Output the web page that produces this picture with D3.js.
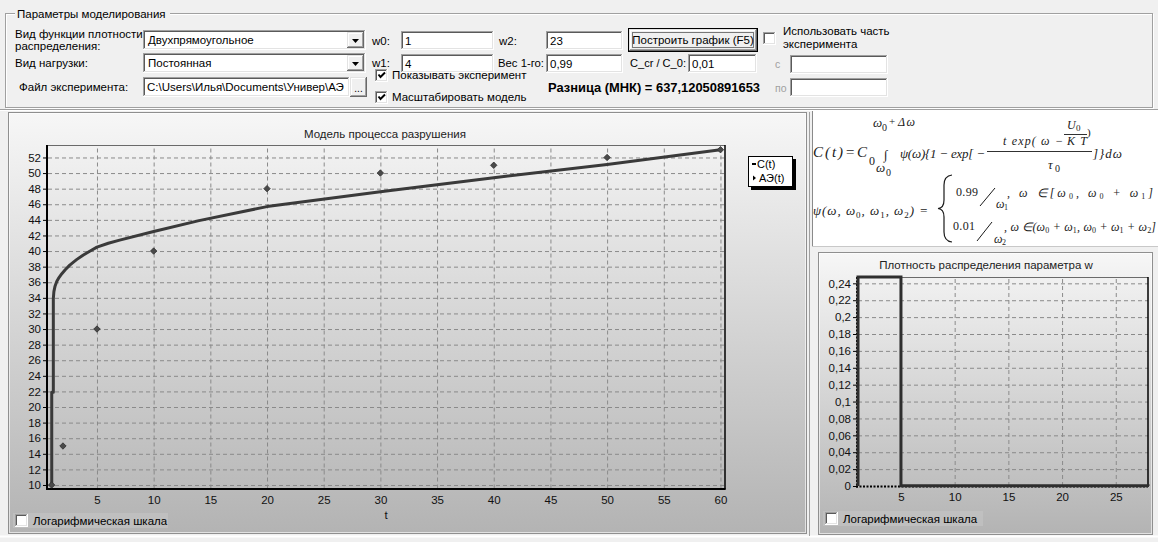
<!DOCTYPE html>
<html>
<head>
<meta charset="utf-8">
<script src="https://cdn.jsdelivr.net/npm/d3@7"></script>
<style>
  html, body { margin: 0; padding: 0; background: #f0f0f0; }
  svg { display: block; font-family: "Liberation Sans", Arial, sans-serif; }
</style>
</head>
<body>
<svg id="app" width="1158" height="542"></svg>
<script>
// ---- experiment (АЭ) points ----
const expT = [1, 2, 5, 10, 20, 30, 40, 50, 60];
const expC = [10, 15, 30, 40, 48, 50, 51, 52, 53];

// ---- model curve C(t) ----
const modelT = [1.01, 1.01, 1.15, 1.15, 1.2, 1.3, 1.45, 1.65, 1.9, 2.2, 2.6, 3.2, 3.8, 4.4, 5, 6, 7, 10, 14, 20, 30, 40, 50, 60];
const modelC = [10, 21.9, 21.9, 33.9, 34.8, 35.5, 36.1, 36.6, 37.1, 37.6, 38.2, 38.9, 39.5, 40.0, 40.5, 41.0, 41.4, 42.5, 43.9, 45.7, 47.6, 49.4, 51.1, 53.0];

// ---- density of parameter w (two rectangles: 0.99/w1 and 0.01/w2) ----
const densW = [1, 1, 5, 5, 28, 28];
const densP = [0, 0.2475, 0.2475, 0.000435, 0.000435, 0];

// ---- axis ranges and tick labels ----
const tRange = [0.68, 60.4];
const cRange = [9.55, 53.6];
const tTicks = [5, 10, 15, 20, 25, 30, 35, 40, 45, 50, 55, 60];
const cTicks = [10, 12, 14, 16, 18, 20, 22, 24, 26, 28, 30, 32, 34, 36, 38, 40, 42, 44, 46, 48, 50, 52];
const wRange = [1, 28];
const pRange = [0, 0.2475];
const wTicks = [5, 10, 15, 20, 25];
const pTicks = [0, 0.02, 0.04, 0.06, 0.08, 0.1, 0.12, 0.14, 0.16, 0.18, 0.2, 0.22, 0.24];

const W = 1158, H = 542;
const svg = d3.select('#app');
const defs = svg.append('defs');
const grad = defs.append('linearGradient').attr('id', 'panelGrad')
  .attr('x1', 0).attr('y1', 0).attr('x2', 0).attr('y2', 1);
grad.append('stop').attr('offset', 0).attr('stop-color', '#f7f7f7');
grad.append('stop').attr('offset', 1).attr('stop-color', '#b3b3b3');

svg.append('rect').attr('width', W).attr('height', H).attr('fill', '#f0f0f0');

// ---------- small widget helpers ----------
function ln(g, x1, y1, x2, y2, c, w = 1, dash = null) {
  return g.append('line').attr('x1', x1).attr('y1', y1).attr('x2', x2).attr('y2', y2)
    .attr('stroke', c).attr('stroke-width', w).attr('stroke-dasharray', dash);
}
function label(g, x, cy, text, o = {}) {
  const t = g.append('text').attr('x', x).attr('y', cy).attr('dy', '0.35em')
    .attr('font-size', o.size || 11.5).attr('fill', o.fill || '#000')
    .attr('font-weight', o.weight || null).attr('text-anchor', o.anchor || 'start')
    .text(text);
  if (o.len) t.attr('textLength', o.len).attr('lengthAdjust', 'spacingAndGlyphs');
  return t;
}
function sunken(g, x, y, w, h, fill = '#fff') {
  g.append('rect').attr('x', x).attr('y', y).attr('width', w).attr('height', h).attr('fill', fill);
  ln(g, x, y + 0.5, x + w, y + 0.5, '#a0a0a0');
  ln(g, x + 0.5, y, x + 0.5, y + h, '#a0a0a0');
  ln(g, x + 1, y + 1.5, x + w - 1, y + 1.5, '#5a5a5a');
  ln(g, x + 1.5, y + 1, x + 1.5, y + h - 1, '#5a5a5a');
  ln(g, x, y + h - 0.5, x + w, y + h - 0.5, '#ffffff');
  ln(g, x + w - 0.5, y, x + w - 0.5, y + h, '#ffffff');
  ln(g, x + 1, y + h - 1.5, x + w - 1, y + h - 1.5, '#e3e3e3');
  ln(g, x + w - 1.5, y + 1, x + w - 1.5, y + h - 1, '#e3e3e3');
}
function raised(g, x, y, w, h) {
  g.append('rect').attr('x', x).attr('y', y).attr('width', w).attr('height', h).attr('fill', '#f0f0f0');
  ln(g, x, y + 0.5, x + w - 1, y + 0.5, '#e3e3e3');
  ln(g, x + 0.5, y, x + 0.5, y + h - 1, '#e3e3e3');
  ln(g, x + 1, y + 1.5, x + w - 2, y + 1.5, '#ffffff');
  ln(g, x + 1.5, y + 1, x + 1.5, y + h - 2, '#ffffff');
  ln(g, x, y + h - 0.5, x + w, y + h - 0.5, '#696969');
  ln(g, x + w - 0.5, y, x + w - 0.5, y + h, '#696969');
  ln(g, x + 1, y + h - 1.5, x + w - 1, y + h - 1.5, '#a0a0a0');
  ln(g, x + w - 1.5, y + 1, x + w - 1.5, y + h - 1, '#a0a0a0');
}
function combo(g, x, y, w, h, text) {
  sunken(g, x, y, w, h);
  raised(g, x + w - 19, y + 2, 17, h - 4);
  const cx = x + w - 10.5, cy = y + h / 2 + 1;
  g.append('path').attr('d', `M${cx - 3.5},${cy - 2} L${cx + 3.5},${cy - 2} L${cx},${cy + 2}Z`).attr('fill', '#000');
  label(g, x + 5, y + h / 2, text);
}
function field(g, x, y, w, h, text) {
  sunken(g, x, y, w, h);
  if (text) label(g, x + 4, y + h / 2, text);
}
function checkbox(g, x, y, checked) {
  sunken(g, x, y, 13, 13);
  if (checked) {
    g.append('path').attr('d', `M${x + 3.5},${y + 5.5} L${x + 5.5},${y + 8} L${x + 10},${y + 3.5}`)
      .attr('fill', 'none').attr('stroke', '#000').attr('stroke-width', 2);
  }
}

// ---------- parameters group ----------
const ui = svg.append('g');
ui.append('rect').attr('x', 5.5).attr('y', 13.5).attr('width', 1147).attr('height', 94)
  .attr('fill', 'none').attr('stroke', '#a0a0a0');
ui.append('rect').attr('x', 6.5).attr('y', 14.5).attr('width', 1147).attr('height', 94)
  .attr('fill', 'none').attr('stroke', '#ffffff').lower();
ui.append('rect').attr('x', 15).attr('y', 6).attr('width', 155).attr('height', 16).attr('fill', '#f0f0f0');
label(ui, 17, 14, 'Параметры моделирования');

label(ui, 15, 34, 'Вид функции плотности');
label(ui, 15, 46, 'распределения:');
combo(ui, 143, 30, 223, 20, 'Двухпрямоугольное');
label(ui, 372, 41, 'w0:');
field(ui, 401, 31, 93, 19, '1');
label(ui, 499, 41, 'w2:');
field(ui, 546, 31, 77, 19, '23');

// "Построить график (F5)" default button
raised(ui, 629, 29, 128, 22);
ui.append('rect').attr('x', 628.5).attr('y', 28.5).attr('width', 129).attr('height', 23)
  .attr('fill', 'none').attr('stroke', '#000');
ui.append('rect').attr('x', 632.5).attr('y', 32.5).attr('width', 121).attr('height', 15)
  .attr('fill', 'none').attr('stroke', '#000').attr('stroke-dasharray', '1,1');
label(ui, 693, 40, 'Построить график (F5)', { anchor: 'middle' });

checkbox(ui, 763, 32, false);
label(ui, 783, 31, 'Использовать часть');
label(ui, 783, 44, 'эксперимента');

label(ui, 15, 63, 'Вид нагрузки:');
combo(ui, 143, 53, 223, 20, 'Постоянная');
label(ui, 372, 63, 'w1:');
field(ui, 401, 54, 93, 19, '4');
label(ui, 498, 63, 'Вес 1-го:', { len: 46 });
field(ui, 546, 54, 77, 19, '0,99');
label(ui, 630, 63, 'C_cr / C_0:', { len: 56 });
field(ui, 688, 54, 69, 19, '0,01');
label(ui, 775, 64, 'с', { fill: '#a0a0a0', size: 10.5 });
field(ui, 790, 55, 98, 19, '');

label(ui, 19, 87, 'Файл эксперимента:');
defs.append('clipPath').attr('id', 'fileClip').append('rect')
  .attr('x', 145).attr('y', 78).attr('width', 203).attr('height', 17);
field(ui, 143, 77, 207, 20, '');
label(ui, 147, 87, 'C:\\Users\\Илья\\Documents\\Универ\\АЭ').attr('clip-path', 'url(#fileClip)');
raised(ui, 350, 77, 17, 20);
label(ui, 358.5, 88, '...', { anchor: 'middle', size: 10 });

checkbox(ui, 375, 69, true);
label(ui, 392, 75, 'Показывать эксперимент');
checkbox(ui, 375, 91, true);
label(ui, 392, 97, 'Масштабировать модель');
label(ui, 548, 88, 'Разница (МНК) = 637,12050891653', { weight: 'bold', size: 12, len: 212 });
label(ui, 775, 88, 'по', { fill: '#a0a0a0', size: 10.5 });
field(ui, 790, 78, 98, 19, '');

// separator under the group
ln(svg, 0, 109.5, W, 109.5, '#a0a0a0');
ln(svg, 0, 110.5, W, 110.5, '#ffffff');

// ---------- panels ----------
function panel(x, y, w, h) {
  svg.append('rect').attr('x', x).attr('y', y).attr('width', w).attr('height', h)
    .attr('fill', 'url(#panelGrad)');
  svg.append('rect').attr('x', x + 0.5).attr('y', y + 0.5).attr('width', w - 1).attr('height', h - 1)
    .attr('fill', 'none').attr('stroke', '#8f8f8f');
  svg.append('rect').attr('x', x + 1.5).attr('y', y + 1.5).attr('width', w - 3).attr('height', h - 3)
    .attr('fill', 'none').attr('stroke', '#ffffff').attr('stroke-opacity', 0.6);
}
panel(8, 112, 799, 422);
ln(svg, 0, 536.5, W, 536.5, '#ffffff', 2);
ln(svg, 809.5, 112, 809.5, 536, '#a0a0a0');

// ---------- main chart: model of fracture process ----------
const mp = { l: 48, r: 725, t: 145, b: 488.5 };
const xM = d3.scaleLinear().domain(tRange).range([mp.l, mp.r]);
const yM = d3.scaleLinear().domain(cRange).range([mp.b, mp.t]);
const main = svg.append('g');

main.append('text').attr('x', 385).attr('y', 134).attr('dy', '0.35em').attr('text-anchor', 'middle')
  .attr('font-size', 11.5).attr('fill', '#222').text('Модель процесса разрушения');

const gridStyle = sel => {
  sel.select('.domain').remove();
  sel.selectAll('.tick line').attr('stroke', '#8a8a8a').attr('stroke-dasharray', '4,3');
};
main.append('g').attr('transform', `translate(0,${mp.b})`)
  .call(d3.axisBottom(xM).tickValues(tTicks).tickSize(-(mp.b - mp.t)).tickFormat(''))
  .call(gridStyle);
main.append('g').attr('transform', `translate(${mp.l},0)`)
  .call(d3.axisLeft(yM).tickValues(cTicks).tickSize(-(mp.r - mp.l)).tickFormat(''))
  .call(gridStyle);

// frame and axes
ln(main, mp.l, mp.t + 0.5, mp.r, mp.t + 0.5, '#6a6a6a');
ln(main, mp.r, mp.t, mp.r, mp.b + 1, '#000', 1.5);

const yAxisM = main.append('g').attr('transform', `translate(${mp.l - 1},0)`)
  .call(d3.axisLeft(yM).tickValues(cTicks).tickSize(4).tickPadding(2).tickFormat(d3.format('d')));
const xAxisM = main.append('g').attr('transform', `translate(0,${mp.b})`)
  .call(d3.axisBottom(xM).tickValues(tTicks).tickSize(0).tickPadding(7).tickFormat(d3.format('d')));
[yAxisM, xAxisM].forEach(a => {
  a.select('.domain').remove();
  a.selectAll('text').attr('font-size', 11.5).attr('fill', '#111')
    .attr('font-family', '"Liberation Sans", Arial, sans-serif');
  a.selectAll('.tick line').attr('stroke', '#000');
});
ln(main, mp.l - 1, mp.t, mp.l - 1, mp.b + 1.5, '#000', 2);
ln(main, mp.l - 2, mp.b + 0.5, mp.r + 0.5, mp.b + 0.5, '#000', 2);
main.append('text').attr('x', 386).attr('y', 515).attr('dy', '0.35em').attr('text-anchor', 'middle')
  .attr('font-size', 11.5).attr('fill', '#111').text('t');

// model curve
const model = modelT.map((t, i) => [t, modelC[i]]);
main.append('path').datum(model)
  .attr('d', d3.line().x(d => xM(d[0])).y(d => yM(d[1])))
  .attr('fill', 'none').attr('stroke', '#3a3a3a').attr('stroke-width', 3)
  .attr('stroke-linejoin', 'round');

// experiment points
main.selectAll('path.pt').data(expT.map((t, i) => [t, expC[i]])).join('path')
  .attr('class', 'pt')
  .attr('transform', d => `translate(${xM(d[0])},${yM(d[1])})`)
  .attr('d', 'M0,-3.2 L3.2,0 L0,3.2 L-3.2,0Z')
  .attr('fill', '#4a4a4a').attr('stroke', '#2e2e2e').attr('stroke-width', 0.8);

// legend
const lg = main.append('g');
lg.append('rect').attr('x', 751).attr('y', 159).attr('width', 45).attr('height', 31).attr('fill', '#000');
lg.append('rect').attr('x', 748.5).attr('y', 156.5).attr('width', 44).attr('height', 30)
  .attr('fill', '#fff').attr('stroke', '#000');
ln(lg, 752, 164, 756, 164, '#000', 2);
lg.append('path').attr('d', 'M753,175.5 L756,178 L753,180.5Z').attr('fill', '#000');
label(lg, 757, 164, 'C(t)', { size: 11 });
label(lg, 759, 178.5, 'АЭ(t)', { size: 11 });

// log scale option
const cbBg = (x, y, w) => svg.append('rect').attr('x', x).attr('y', y).attr('width', w).attr('height', 15)
  .attr('fill', '#c6c6c6').attr('fill-opacity', 0.55);
cbBg(13, 513, 155);
checkbox(svg, 15, 514, false);
label(svg, 33, 520.5, 'Логарифмическая шкала');

// ---------- formula box ----------
const fx = svg.append('g');
fx.append('rect').attr('x', 812).attr('y', 111).attr('width', 346).attr('height', 136).attr('fill', '#fff');
ln(fx, 812.5, 111, 812.5, 247, '#8a8a8a');
ln(fx, 812, 246.5, W, 246.5, '#c8c8c8');
const serif = '"Liberation Serif", "Times New Roman", serif';
function ft(x, y, s, size, italic, len) {
  const t = fx.append('text').attr('x', x).attr('y', y).attr('font-family', serif)
    .attr('font-size', size).attr('font-style', italic ? 'italic' : 'normal').attr('fill', '#1a1a1a').text(s);
  if (len) t.attr('textLength', len).attr('lengthAdjust', 'spacing');
  return t;
}
// C(t) = C0 ∫ ψ(ω){1 − exp[−t·exp(ω − U0/KT)/τ0]} dω
ft(813, 157, 'C(t)=C', 15, true, 54);
ft(869, 165, '0', 12, false);
ft(873, 127, 'ω', 13, true);
ft(882, 131, '0', 10, false);
ft(889, 125, '+', 11, false);
ft(898, 126, 'Δω', 12, true, 17);
ft(884, 159, '∫', 13, false);
ft(876, 172, 'ω', 13, true);
ft(886, 176, '0', 10, false);
ft(900, 158, 'ψ(ω){1 − exp[ −', 13, true, 85);
ln(fx, 987, 151.5, 1092, 151.5, '#1a1a1a', 0.9);
ft(1003, 145, 't exp( ω −', 12, true, 60);
ft(1067, 129, 'U', 12, true);
ft(1076, 131, '0', 9, false);
ln(fx, 1064, 134.5, 1087, 134.5, '#1a1a1a', 0.9);
ft(1067, 145, 'KT', 12, true, 20);
ft(1087, 136, ')', 11, false);
ft(1048, 169, 'τ', 13, true);
ft(1055, 172, '0', 10, false);
ft(1093, 158, ']}dω', 13, true, 29);

// ψ(ω, ω0, ω1, ω2) piecewise definition
const l2 = ft(813, 215, '', 13, true);
[['ψ(ω, ω', 0], ['0', 1], [', ω', 0], ['1', 1], [', ω', 0], ['2', 1], [') = ', 0]].forEach(([s, sub]) => {
  l2.append('tspan').attr('font-size', sub ? 9 : 13).attr('font-style', sub ? 'normal' : 'italic')
    .attr('dy', sub ? 3 : (s.startsWith(',') || s.startsWith(')') ? -3 : 0)).text(s);
});
l2.attr('textLength', 115).attr('lengthAdjust', 'spacing');
fx.append('path')
  .attr('d', 'M952,175 Q944,176 944,185 L944,200 Q944,208 938,208.5 Q944,209 944,217 L944,232 Q944,241 952,242')
  .attr('fill', 'none').attr('stroke', '#1a1a1a').attr('stroke-width', 1.2);

ft(956, 196, '0.99', 12, false, 22);
ln(fx, 980, 206, 995, 188, '#1a1a1a', 1);
ft(996, 208, 'ω', 12, true);
ft(1004, 210, '1', 8, false);
const r1 = ft(1007, 199, '', 12, true);
[[', ω ∈[ω', 0], ['0', 1], [', ω', 0], ['0', 1], [' + ω', 0], ['1', 1], [']', 0]].forEach(([s, sub]) => {
  r1.append('tspan').attr('font-size', sub ? 8 : 12).attr('font-style', sub ? 'normal' : 'italic')
    .attr('dy', sub ? 2 : (s.startsWith('ω') ? 0 : -2)).text(s);
});
r1.attr('textLength', 146).attr('lengthAdjust', 'spacing');

ft(953, 230, '0.01', 12, false, 22);
ln(fx, 977, 241, 992, 222, '#1a1a1a', 1);
ft(994, 243, 'ω', 12, true);
ft(1002, 245, '2', 8, false);
const r2 = ft(1004, 233, '', 12, true);
[[', ω ∈(ω', 0], ['0', 1], [' + ω', 0], ['1', 1], [', ω', 0], ['0', 1], [' + ω', 0], ['1', 1], [' + ω', 0], ['2', 1], [']', 0]].forEach(([s, sub]) => {
  r2.append('tspan').attr('font-size', sub ? 8 : 12).attr('font-style', sub ? 'normal' : 'italic')
    .attr('dy', sub ? 2 : -2).text(s);
});
r2.attr('textLength', 152).attr('lengthAdjust', 'spacing');

// ---------- density chart ----------
panel(818, 252, 335, 283);
const dp = { l: 858, r: 1148, t: 277, b: 486 };
const xD = d3.scaleLinear().domain(wRange).range([dp.l, dp.r]);
const yD = d3.scaleLinear().domain(pRange).range([dp.b, dp.t]);
const dens = svg.append('g');
dens.append('text').attr('x', 986).attr('y', 265).attr('dy', '0.35em').attr('text-anchor', 'middle')
  .attr('font-size', 11.5).attr('fill', '#222').text('Плотность распределения параметра w');

dens.append('g').attr('transform', `translate(0,${dp.b})`)
  .call(d3.axisBottom(xD).tickValues(wTicks).tickSize(-(dp.b - dp.t)).tickFormat(''))
  .call(gridStyle);
dens.append('g').attr('transform', `translate(${dp.l},0)`)
  .call(d3.axisLeft(yD).tickValues(pTicks.filter(v => v > 0)).tickSize(-(dp.r - dp.l)).tickFormat(''))
  .call(gridStyle);
ln(dens, dp.l, dp.t + 0.5, dp.r, dp.t + 0.5, '#6a6a6a');
ln(dens, dp.r, dp.t, dp.r, dp.b + 1, '#000', 1.5);

const commaFmt = v => String(+v.toFixed(2)).replace('.', ',');
const yAxisD = dens.append('g').attr('transform', `translate(${dp.l - 1},0)`)
  .call(d3.axisLeft(yD).tickValues(pTicks).tickSize(4).tickPadding(2).tickFormat(commaFmt));
const xAxisD = dens.append('g').attr('transform', `translate(0,${dp.b})`)
  .call(d3.axisBottom(xD).tickValues(wTicks).tickSize(0).tickPadding(7).tickFormat(d3.format('d')));
[yAxisD, xAxisD].forEach(a => {
  a.select('.domain').remove();
  a.selectAll('text').attr('font-size', 11.5).attr('fill', '#111')
    .attr('font-family', '"Liberation Sans", Arial, sans-serif');
  a.selectAll('.tick line').attr('stroke', '#000');
});
ln(dens, dp.l - 1, dp.t, dp.l - 1, dp.b + 1.5, '#000', 2, '2,1.5');
ln(dens, dp.l - 2, dp.b + 0.5, dp.r, dp.b + 0.5, '#000', 2, '2,1.5');

dens.append('path').datum(densW.map((w, i) => [w, densP[i]]))
  .attr('d', d3.line().x(d => xD(d[0])).y(d => yD(d[1])))
  .attr('fill', 'none').attr('stroke', '#2e2e2e').attr('stroke-width', 3);

cbBg(823, 511, 160);
checkbox(svg, 825, 512, false);
label(svg, 843, 518.5, 'Логарифмическая шкала');
</script>
</body>
</html>
